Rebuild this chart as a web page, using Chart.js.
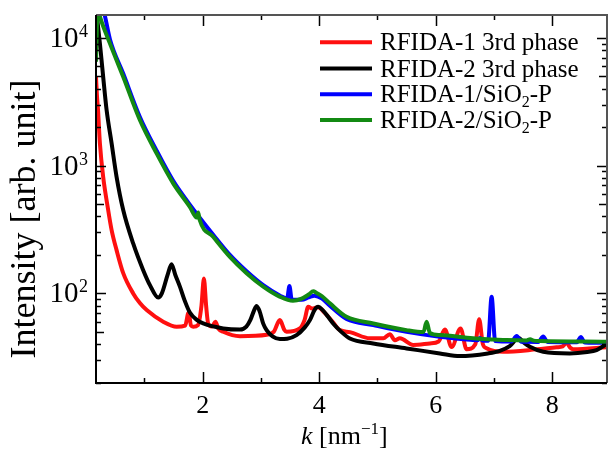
<!DOCTYPE html>
<html lang="en">
<head>
<meta charset="UTF-8">
<title>Intensity profiles</title>
<script src="https://cdn.jsdelivr.net/npm/chart.js"></script>
<style>
  html, body { margin: 0; padding: 0; background: #fff; }
  #wrap { width: 608px; height: 451px; position: relative; }
</style>
</head>
<body>
<div id="wrap"><canvas id="chart"></canvas></div>
<script>
// ---- data ----
const seriesNames = ["RFIDA-1 3rd phase", "RFIDA-2 3rd phase", "RFIDA-1/SiO\u2082-P", "RFIDA-2/SiO\u2082-P"];

const kRed = [0.17, 0.185, 0.205, 0.237, 0.293, 0.379, 0.438, 0.523, 0.637, 0.808, 0.923, 1.04, 1.323, 1.553, 1.70, 1.76, 1.80, 1.838, 1.92, 1.98, 2.022, 2.06, 2.095, 2.16, 2.219, 2.27, 2.353, 2.64, 3.10, 3.22, 3.326, 3.40, 3.441, 3.669, 3.75, 3.812, 3.88, 3.98, 4.10, 4.235, 4.356, 4.527, 4.87, 5.10, 5.213, 5.30, 5.385, 5.614, 5.90, 6.05, 6.158, 6.273, 6.427, 6.53, 6.68, 6.746, 6.81, 6.873, 7.158, 7.731, 8.074, 8.18, 8.246, 8.31, 8.36, 8.955];
const iRed = [4950, 3600, 2700, 1493, 817, 449, 313, 218, 144, 100, 84, 74, 60, 54.8, 56, 70.8, 56, 54.8, 56.5, 80, 130.6, 80, 58.2, 55, 60, 53, 50.1, 46.3, 47.5, 50, 61.8, 52, 50.1, 53.2, 62, 78.5, 76, 78, 70, 59.6, 51.6, 49.8, 44.5, 44.5, 48, 43, 44.5, 39.5, 40.6, 42, 52.1, 38, 53.2, 36.5, 40, 62.7, 40, 37.2, 34.9, 36.5, 37.9, 38.5, 41.1, 37.5, 36.6, 38];

const kBlack = [0.17, 0.237, 0.293, 0.352, 0.438, 0.523, 0.637, 0.808, 0.98, 1.10, 1.237, 1.30, 1.40, 1.467, 1.53, 1.61, 1.70, 1.781, 1.90, 2.01, 2.353, 2.64, 2.75, 2.82, 2.88, 2.926, 2.98, 3.04, 3.098, 3.20, 3.326, 3.45, 3.612, 3.75, 3.841, 3.92, 3.983, 4.06, 4.15, 4.24, 4.38, 4.527, 4.927, 5.50, 6.072, 6.415, 6.895, 7.10, 7.27, 7.42, 7.52, 7.617, 7.845, 8.30, 8.60, 8.76, 8.85, 8.95];
const iBlack = [17000, 9040, 4950, 2717, 1492, 817, 449, 246, 152, 115, 92.7, 100, 140, 169, 140, 113, 86, 70.8, 62, 58.2, 53.2, 52.1, 55, 62, 73, 79.6, 72, 58, 51.6, 46, 43.9, 44.2, 47.2, 54, 61.8, 74, 78.5, 74, 66, 58.2, 50, 44.4, 40.6, 37.1, 33.9, 32.3, 33.9, 35.5, 38.7, 44.7, 41, 38.2, 34.9, 33.9, 34.8, 36, 38, 40.8];

const kBlue = [0.17, 0.32, 0.41, 0.637, 0.923, 1.21, 1.495, 1.78, 2.181, 2.468, 2.754, 3.04, 3.33, 3.45, 3.49, 3.53, 3.70, 3.82, 3.92, 4.05, 4.184, 4.47, 4.93, 5.50, 6.07, 6.64, 6.72, 6.76, 6.80, 6.90, 6.96, 7.02, 7.30, 7.39, 7.47, 7.76, 7.845, 7.92, 8.42, 8.49, 8.56, 8.93];
const iBlue = [25000, 15000, 9700, 5250, 2400, 1310, 760, 495, 288, 200, 149, 116, 96, 91, 114, 89, 89, 93, 96, 91, 80, 63, 56.5, 50, 45.8, 43.2, 42.9, 44.8, 42.8, 42.6, 94, 42.4, 42, 46.4, 41.8, 41.7, 45.9, 41.6, 41.4, 45.5, 41.3, 41];

const kGreen = [0.17, 0.185, 0.20, 0.24, 0.41, 0.637, 0.923, 1.21, 1.495, 1.78, 1.90, 1.925, 1.95, 2.181, 2.468, 2.754, 3.04, 3.33, 3.55, 3.70, 3.82, 3.90, 3.95, 4.05, 4.184, 4.47, 4.93, 5.50, 5.79, 5.844, 5.90, 6.07, 6.64, 7.00, 7.22, 7.56, 7.62, 7.68, 7.79, 8.93];
const iGreen = [6500, 12000, 17000, 14500, 9000, 4950, 2270, 1245, 726, 476, 392, 430, 375, 277, 193, 144, 113, 94, 87.5, 91, 98, 104, 101, 95, 83.6, 65.6, 58.2, 51.6, 49.8, 60, 49, 47.2, 44.5, 43.6, 43.1, 42.8, 43.8, 42.7, 42.4, 41.8];

const seriesColors = ["#ff1010", "#000000", "#0000ff", "#138a13"];

const xTickLabels = [2, 4, 6, 8];
const xMinorTicks = [1, 2, 3, 4, 5, 6, 7, 8];
const yDecades = [2, 3, 4];

function pairs(xs, ys) {
  return xs.map((x, i) => ({ x: x, y: ys[i] }));
}

const SERIF = '"Liberation Serif", "Times New Roman", serif';

// axes frame, inward ticks, labels, titles and legend
const framePlugin = {
  id: "frame",
  afterDraw(chart) {
    const ctx = chart.ctx;
    const a = chart.chartArea;
    const xs = chart.scales.x;
    const ys = chart.scales.y;
    ctx.save();

    // ticks
    ctx.strokeStyle = "#000";
    ctx.lineWidth = 1.5;
    ctx.beginPath();
    xMinorTicks.forEach((k) => {
      const px = Math.round(xs.getPixelForValue(k)) + 0.5;
      const len = k % 2 === 0 ? 11 : 5;
      ctx.moveTo(px, a.bottom);
      ctx.lineTo(px, a.bottom - len);
      ctx.moveTo(px, a.top);
      ctx.lineTo(px, a.top + len);
    });
    for (let p = 1; p <= 4; p++) {
      for (let m = 1; m <= 9; m++) {
        const v = m * Math.pow(10, p);
        if (v < ys.min || v > ys.max) continue;
        const py = Math.round(ys.getPixelForValue(v)) + 0.5;
        const len = m === 1 ? 10 : m === 5 ? 8 : 5;
        ctx.moveTo(a.left, py);
        ctx.lineTo(a.left + len, py);
        ctx.moveTo(a.right, py);
        ctx.lineTo(a.right - len, py);
      }
    }
    ctx.stroke();

    // frame
    ctx.lineWidth = 2;
    ctx.strokeStyle = "#555";
    ctx.beginPath();
    ctx.moveTo(a.left, a.top);
    ctx.lineTo(a.right, a.top);
    ctx.lineTo(a.right, a.bottom);
    ctx.stroke();
    ctx.strokeStyle = "#000";
    ctx.beginPath();
    ctx.moveTo(a.left, a.top);
    ctx.lineTo(a.left, a.bottom);
    ctx.lineTo(a.right, a.bottom);
    ctx.stroke();

    ctx.fillStyle = "#000";
    ctx.textBaseline = "alphabetic";

    // y tick labels 10^n
    yDecades.forEach((p) => {
      const py = ys.getPixelForValue(Math.pow(10, p));
      ctx.font = "18px " + SERIF;
      const sup = String(p);
      const ws = ctx.measureText(sup).width;
      ctx.textAlign = "left";
      ctx.fillText(sup, 88 - ws, py - 1);
      ctx.font = "29px " + SERIF;
      ctx.textAlign = "right";
      ctx.fillText("10", 88 - ws - 0.5, py + 9);
    });

    // x tick labels
    ctx.font = "26px " + SERIF;
    ctx.textAlign = "center";
    xTickLabels.forEach((k) => {
      ctx.fillText(String(k), xs.getPixelForValue(k), 412.5);
    });

    // x title: k [nm^-1]
    let x = 301;
    const base = 443.5;
    ctx.textAlign = "left";
    ctx.font = "italic 26px " + SERIF;
    ctx.fillText("k", x, base);
    x += ctx.measureText("k").width;
    ctx.font = "26px " + SERIF;
    ctx.fillText(" [nm", x, base);
    x += ctx.measureText(" [nm").width;
    ctx.font = "17px " + SERIF;
    ctx.fillText("\u22121", x, base - 10);
    x += ctx.measureText("\u22121").width;
    ctx.font = "26px " + SERIF;
    ctx.fillText("]", x, base);

    // y title
    ctx.save();
    ctx.translate(35, 219);
    ctx.rotate(-Math.PI / 2);
    ctx.font = "36px " + SERIF;
    ctx.textAlign = "center";
    ctx.fillText("Intensity [arb. unit]", 0, 0);
    ctx.restore();

    // legend
    const rowY = [42.3, 68.5, 94.3, 120];
    chart.data.datasets.forEach((ds, i) => {
      const y = rowY[i];
      ctx.strokeStyle = ds.borderColor;
      ctx.lineWidth = 4;
      ctx.beginPath();
      ctx.moveTo(320, y);
      ctx.lineTo(372, y);
      ctx.stroke();
      const parts = ds.label.split("\u2082");
      let tx = 380;
      ctx.textAlign = "left";
      parts.forEach((part, j) => {
        ctx.font = "25px " + SERIF;
        ctx.fillText(part, tx, y + 8);
        tx += ctx.measureText(part).width;
        if (j < parts.length - 1) {
          ctx.font = "16px " + SERIF;
          ctx.fillText("2", tx, y + 13);
          tx += ctx.measureText("2").width;
        }
      });
    });

    ctx.restore();
  },
};

const ctxChart = document.getElementById("chart");
new Chart(ctxChart, {
  type: "line",
  data: {
    datasets: [
      { label: seriesNames[0], data: pairs(kRed, iRed), borderColor: seriesColors[0], order: 4 },
      { label: seriesNames[1], data: pairs(kBlack, iBlack), borderColor: seriesColors[1], order: 3 },
      { label: seriesNames[2], data: pairs(kBlue, iBlue), borderColor: seriesColors[2], order: 2 },
      { label: seriesNames[3], data: pairs(kGreen, iGreen), borderColor: seriesColors[3], order: 1 },
    ],
  },
  options: {
    responsive: true,
    maintainAspectRatio: false,
    animation: false,
    devicePixelRatio: 1,
    layout: { padding: { left: 96, right: 1, top: 15, bottom: 68 } },
    elements: {
      line: { borderWidth: 4, cubicInterpolationMode: "monotone", fill: false },
      point: { radius: 0 },
    },
    plugins: {
      legend: { display: false },
      tooltip: { enabled: false },
    },
    scales: {
      x: { type: "linear", min: 0.17, max: 8.94, display: false },
      y: { type: "logarithmic", min: 19.9, max: 15070, display: false },
    },
  },
  plugins: [framePlugin],
});
</script>
</body>
</html>
